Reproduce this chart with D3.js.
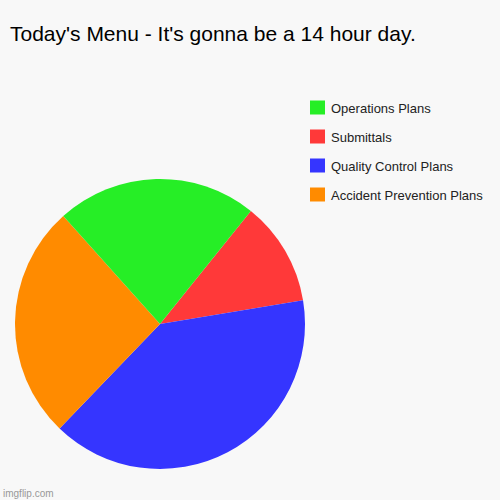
<!DOCTYPE html>
<html><head><meta charset="utf-8">
<script src="https://cdn.jsdelivr.net/npm/d3@7"></script>
<style>body{margin:0;background:#f8f8f8}</style>
</head><body>
<script>
// slices in clockwise drawing order, starting from the red/green edge
var categories = ["Submittals", "Quality Control Plans", "Accident Prevention Plans", "Operations Plans"];
var values = [11.6, 39.8, 26.2, 22.4];
var colors = ["#ff3939", "#3535ff", "#ff8b00", "#26ee26"];
var legendOrder = ["Operations Plans", "Submittals", "Quality Control Plans", "Accident Prevention Plans"];

var svg = d3.select("body").append("svg").attr("width", 500).attr("height", 500)
	.style("font-family", "Liberation Sans, Arial, sans-serif");
svg.append("rect").attr("width", 500).attr("height", 500).attr("fill", "#f8f8f8");

svg.append("text").attr("x", 10).attr("y", 41).attr("font-size", 21).attr("fill", "#000")
	.text("Today's Menu - It's gonna be a 14 hour day.");

var start = 38.8 * Math.PI / 180;
var pie = d3.pie().sort(null).startAngle(start).endAngle(start + 2 * Math.PI);
var arc = d3.arc().innerRadius(0).outerRadius(145);
var color = d3.scaleOrdinal().domain(categories).range(colors);

svg.append("g").attr("transform", "translate(160,324)")
	.selectAll("path").data(pie(values)).join("path")
	.attr("d", arc)
	.attr("fill", function(d, i) { return color(categories[i]); });

var y = d3.scaleBand().domain(legendOrder).range([93, 209]);
var lg = svg.append("g").selectAll("g").data(legendOrder).join("g")
	.attr("transform", function(d) { return "translate(310," + (y(d) + y.bandwidth() / 2) + ")"; });
lg.append("rect").attr("x", 0).attr("y", -7).attr("width", 15).attr("height", 14)
	.attr("fill", function(d) { return color(d); });
lg.append("text").attr("x", 21).attr("y", 5).attr("font-size", 13).attr("fill", "#222").text(function(d) { return d; });

svg.append("text").attr("x", 3).attr("y", 497).attr("font-size", 10).attr("fill", "#999").text("imgflip.com");
</script>
</body></html>
